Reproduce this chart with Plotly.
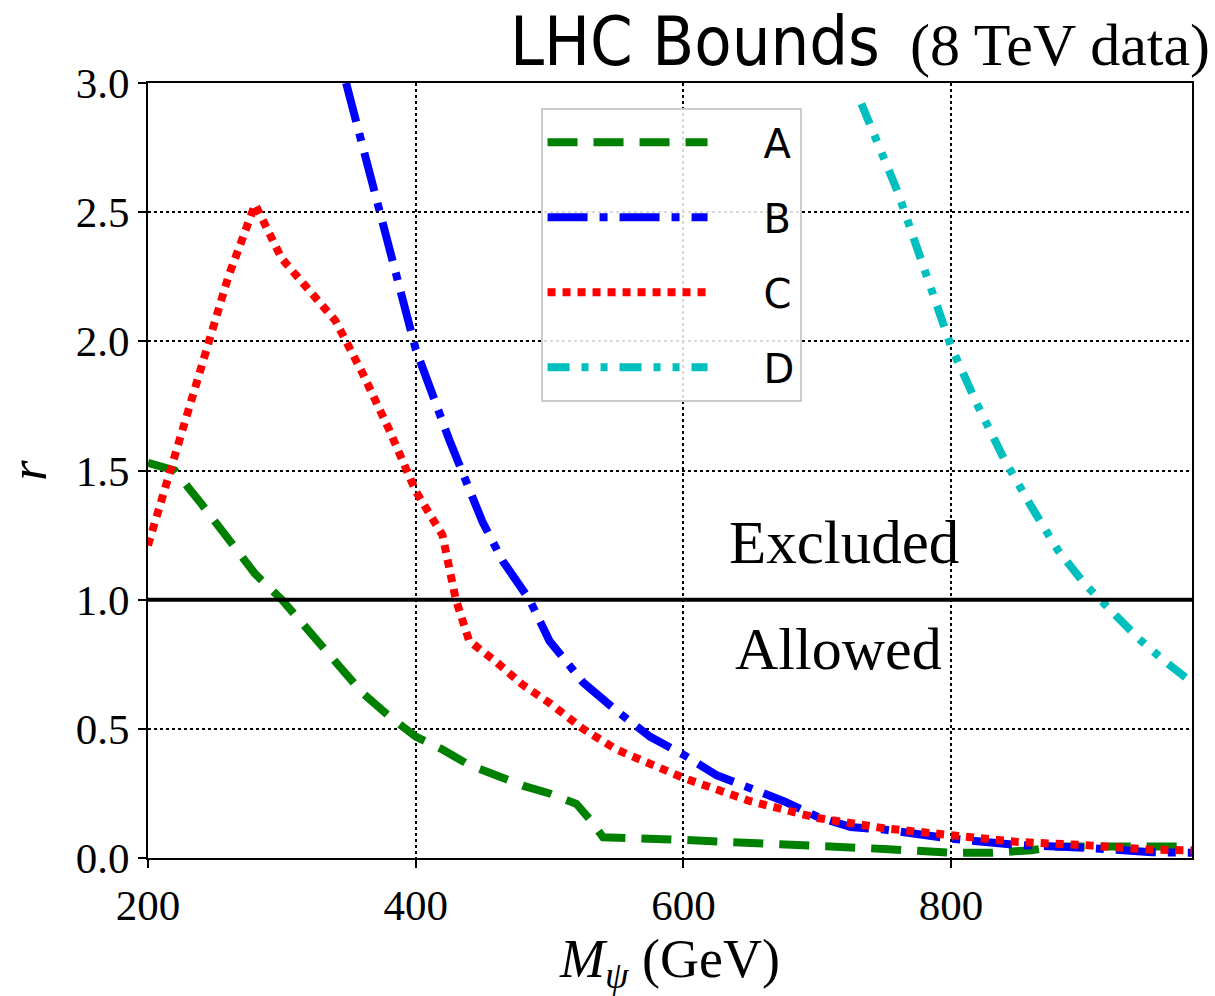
import plotly.graph_objects as go

# ---- data ----
mass_A = [200, 220, 240, 260, 280, 300, 320, 340, 360, 380, 400, 420, 440, 460, 480, 500, 520, 530, 540, 600, 650, 700, 750, 800, 830, 860, 880, 920, 980]
r_A = [1.53, 1.50, 1.37, 1.23, 1.10, 1.00, 0.88, 0.76, 0.64, 0.55, 0.47, 0.42, 0.36, 0.32, 0.28, 0.25, 0.21, 0.15, 0.08, 0.07, 0.06, 0.045, 0.035, 0.02, 0.02, 0.03, 0.045, 0.045, 0.045]

mass_B = [348, 375, 400, 425, 450, 465, 485, 500, 525, 550, 575, 600, 625, 650, 675, 700, 725, 750, 800, 850, 900, 950, 980]
r_B = [3.0, 2.46, 1.97, 1.62, 1.30, 1.15, 1.00, 0.84, 0.68, 0.57, 0.47, 0.40, 0.32, 0.27, 0.22, 0.16, 0.12, 0.11, 0.075, 0.05, 0.04, 0.022, 0.02]

mass_C = [200, 220, 240, 260, 280, 300, 320, 340, 360, 380, 400, 420, 430, 440, 460, 480, 500, 525, 550, 600, 650, 700, 750, 800, 850, 900, 950, 980]
r_C = [1.21, 1.55, 1.90, 2.25, 2.53, 2.32, 2.20, 2.08, 1.88, 1.66, 1.42, 1.25, 1.00, 0.84, 0.76, 0.67, 0.60, 0.50, 0.42, 0.31, 0.22, 0.155, 0.115, 0.085, 0.062, 0.05, 0.032, 0.03]

mass_D = [733, 760, 780, 800, 820, 840, 860, 880, 900, 920, 940, 960, 980]
r_D = [2.92, 2.58, 2.28, 1.98, 1.75, 1.54, 1.36, 1.19, 1.06, 0.95, 0.85, 0.76, 0.68]

names = ["A", "B", "C", "D"]
colors = ["#008000", "#0000ff", "#ff0000", "#00bfbf"]
dashes = ["30px,16px", "40px,12px,8px,12px", "8px,7px", "22px,12px,7px,12px,7px,12px"]
threshold = 1.0
x_ticks = [200, 400, 600, 800]
y_ticks = [0.0, 0.5, 1.0, 1.5, 2.0, 2.5, 3.0]

serif = "Liberation Serif"
sans = "DejaVu Sans"
narrow = "Liberation Sans Narrow, DejaVu Sans Condensed, DejaVu Sans"

fig = go.Figure()
for m, r, n, c, d in zip([mass_A, mass_B, mass_C, mass_D], [r_A, r_B, r_C, r_D], names, colors, dashes):
    fig.add_trace(go.Scatter(x=m, y=r, mode="lines", name="\u00a0\u00a0\u00a0\u00a0" + n, legendgroup=n,
                             line=dict(color=c, width=8, dash=d)))

fig.add_hline(y=threshold, line=dict(color="black", width=4))

fig.add_annotation(x=720, y=1.22, xref="x", yref="y", text="Excluded", showarrow=False,
                   font=dict(family=serif, size=61, color="black"))
fig.add_annotation(x=716, y=0.81, xref="x", yref="y", text="Allowed", showarrow=False,
                   font=dict(family=serif, size=60, color="black"))

fig.add_annotation(x=1.0, y=1.0, xref="paper", yref="paper", xanchor="right", yanchor="bottom",
                   yshift=0, xshift=20, showarrow=False,
                   text=f"<span style='font-family:{narrow};font-size:68px'>LHC Bounds</span>"
                        f"<span style='font-family:{serif};font-size:60px'>  (8 TeV data)</span>",
                   font=dict(color="black"))

axis_common = dict(showline=True, linecolor="black", linewidth=2, mirror=True,
                   showgrid=True, gridcolor="black", gridwidth=1.5, griddash="dot",
                   ticks="outside", ticklen=8, tickwidth=1.5, tickcolor="black",
                   zeroline=False,
                   tickfont=dict(family=serif, size=43, color="black"))

fig.update_xaxes(range=[200, 980], tickvals=x_ticks, **axis_common,
                 title=dict(text="<i>M</i><sub><i>ψ</i></sub> (GeV)", font=dict(family=serif, size=54, color="black"),
                            standoff=13))
fig.update_yaxes(range=[0, 3.0], tickvals=y_ticks, tickformat=".1f", **axis_common,
                 title=dict(text="<i>r</i>", font=dict(family=serif, size=52, color="black"), standoff=12))

fig.update_layout(
    width=1215, height=996,
    margin=dict(l=148, r=23, t=83, b=138),
    paper_bgcolor="white", plot_bgcolor="white",
    showlegend=True,
    legend=dict(x=0.376, y=0.968, xanchor="left", yanchor="top",
                bgcolor="rgba(255,255,255,0.85)", bordercolor="#cccccc", borderwidth=2,
                font=dict(family=sans, size=40, color="black"),
                itemwidth=160, tracegroupgap=20),
)

fig.write_html("out.html")
